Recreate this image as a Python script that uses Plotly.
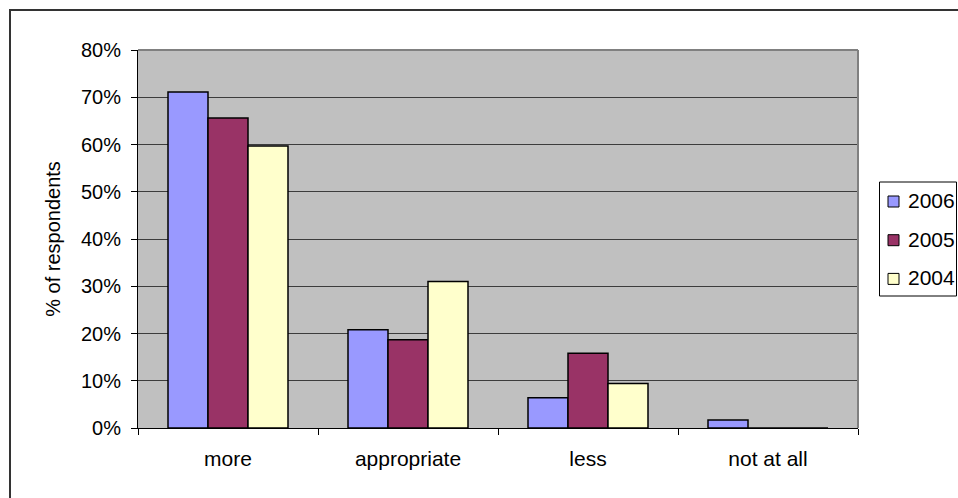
import plotly.graph_objects as go

# Survey answers by year
categories = ["more", "appropriate", "less", "not at all"]
years = ["2006", "2005", "2004"]
share_2006 = [0.711, 0.208, 0.064, 0.017]
share_2005 = [0.656, 0.187, 0.158, 0.0]
share_2004 = [0.597, 0.310, 0.094, 0.0]
y_ticks = [0, 0.1, 0.2, 0.3, 0.4, 0.5, 0.6, 0.7, 0.8]

series = [share_2006, share_2005, share_2004]
colors = ["#9999FF", "#993366", "#FFFFCC"]

FONT = "Liberation Sans, Arial, sans-serif"
W, H = 958, 498
L, R, T, B = 138, 100, 50, 70

fig = go.Figure()
for name, vals, col in zip(years, series, colors):
    fig.add_trace(go.Bar(
        x=categories, y=vals, name=name, showlegend=False,
        marker=dict(color=col, line=dict(color="black", width=1.5)),
    ))

pw = W - L - R
ph = H - T - B

def px_x(p):
    return (p - L) / pw

def px_y(p):
    return (H - B - p) / ph

shapes = [
    # plot-area border on top and right
    dict(type="line", xref="paper", yref="paper", x0=0, x1=1, y0=1, y1=1,
         line=dict(color="#808080", width=2), layer="above"),
    dict(type="line", xref="paper", yref="paper", x0=1, x1=1, y0=0, y1=1,
         line=dict(color="#808080", width=2), layer="above"),
    # chart frame
    dict(type="rect", xref="paper", yref="paper",
         x0=px_x(10), x1=px_x(975), y0=px_y(520), y1=px_y(10),
         line=dict(color="#333333", width=2), layer="below"),
    # legend box
    dict(type="rect", xref="paper", yref="paper",
         x0=px_x(879.5), x1=px_x(956.5), y0=px_y(296), y1=px_y(182),
         fillcolor="white", line=dict(color="black", width=1), layer="above"),
]
annotations = []

# legend entries: swatch + year label
row_step = 38.7
first_row = 201.5
for i, (name, col) in enumerate(zip(years, colors)):
    cy = first_row + i * row_step
    shapes.append(dict(
        type="rect", xref="paper", yref="paper",
        x0=px_x(888), x1=px_x(899), y0=px_y(cy + 5.5), y1=px_y(cy - 5.5),
        fillcolor=col, line=dict(color="black", width=1), layer="above",
    ))
    annotations.append(dict(
        xref="paper", yref="paper", x=px_x(906), y=px_y(cy - 1),
        xanchor="left", yanchor="middle", showarrow=False, text=name,
        font=dict(family=FONT, size=21, color="black"),
    ))

fig.update_layout(
    width=W, height=H,
    margin=dict(l=L, r=R, t=T, b=B, pad=0, autoexpand=False),
    paper_bgcolor="white",
    plot_bgcolor="#C0C0C0",
    barmode="group",
    bargap=1/3,
    bargroupgap=0,
    font=dict(family=FONT, size=20, color="black"),
    showlegend=False,
    xaxis=dict(
        type="category",
        showline=True, linecolor="black", linewidth=1,
        ticks="outside", ticklen=6, tickcolor="black", tickson="boundaries",
        ticklabelstandoff=12,
        tickfont=dict(family=FONT, size=21),
        showgrid=False, zeroline=False,
    ),
    yaxis=dict(
        range=[0, 0.8],
        tickvals=y_ticks, tickformat=".0%",
        showline=True, linecolor="black", linewidth=1,
        ticks="outside", ticklen=6, tickcolor="black",
        ticklabelstandoff=6,
        showgrid=True, gridcolor="#3C3C3C", gridwidth=1,
        zeroline=False,
        title=dict(text="% of respondents", standoff=14,
                   font=dict(family=FONT, size=20)),
    ),
    shapes=shapes,
    annotations=annotations,
)

fig.write_html("out.html")
